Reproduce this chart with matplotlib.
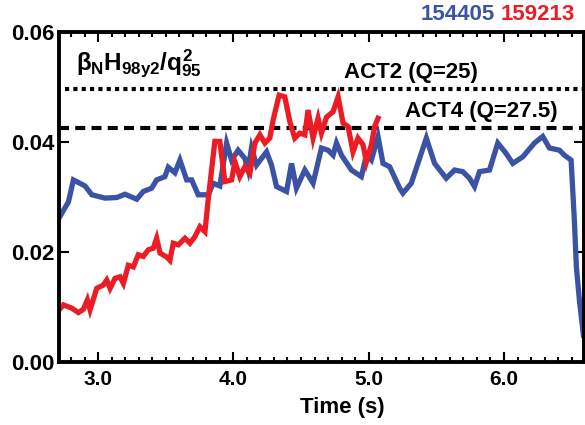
import numpy as np
import matplotlib
matplotlib.use("Agg")
import matplotlib.pyplot as plt
from matplotlib.ticker import MultipleLocator, FormatStrFormatter

plt.rcParams['font.family'] = ['Liberation Sans', 'DejaVu Sans']
plt.rcParams['font.weight'] = 'bold'
plt.rcParams['mathtext.fontset'] = 'custom'
plt.rcParams['mathtext.rm'] = 'Liberation Sans'
plt.rcParams['mathtext.it'] = 'Liberation Sans'

# shot 154405
t_blue = [2.712, 2.781, 2.818, 2.904, 2.954, 3.052, 3.138, 3.199, 3.286, 3.334,
          3.396, 3.433, 3.494, 3.519, 3.568, 3.605, 3.655, 3.692, 3.740, 3.814,
          3.851, 3.900, 3.950, 3.987, 4.035, 4.085, 4.109, 4.134, 4.171, 4.245,
          4.282, 4.319, 4.393, 4.430, 4.466, 4.528, 4.589, 4.651, 4.700, 4.737,
          4.762, 4.799, 4.872, 4.946, 4.983, 5.020, 5.069, 5.106, 5.155, 5.229,
          5.253, 5.315, 5.426, 5.487, 5.573, 5.635, 5.696, 5.745, 5.782, 5.819,
          5.893, 5.954, 6.016, 6.065, 6.139, 6.225, 6.286, 6.336, 6.410, 6.446,
          6.496, 6.520, 6.535, 6.557, 6.587]
v_blue = [0.0262, 0.0291, 0.0331, 0.0320, 0.0304, 0.0298, 0.0299, 0.0305, 0.0296, 0.0310,
          0.0316, 0.0331, 0.0337, 0.0354, 0.0344, 0.0367, 0.0331, 0.0331, 0.0304, 0.0304,
          0.0325, 0.0320, 0.0398, 0.0367, 0.0385, 0.0370, 0.0349, 0.0389, 0.0358, 0.0382,
          0.0358, 0.0319, 0.0310, 0.0361, 0.0316, 0.0349, 0.0325, 0.0389, 0.0385, 0.0376,
          0.0398, 0.0376, 0.0349, 0.0337, 0.0376, 0.0367, 0.0410, 0.0361, 0.0355, 0.0316,
          0.0307, 0.0325, 0.0407, 0.0361, 0.0334, 0.0349, 0.0346, 0.0334, 0.0319, 0.0346,
          0.0349, 0.0398, 0.0379, 0.0361, 0.0373, 0.0398, 0.0410, 0.0389, 0.0385, 0.0376,
          0.0367, 0.0258, 0.0173, 0.0113, 0.0049]

# shot 159213
t_red = [2.712, 2.744, 2.806, 2.855, 2.892, 2.921, 2.941, 2.990, 3.039, 3.064,
         3.089, 3.125, 3.162, 3.187, 3.224, 3.261, 3.297, 3.334, 3.371, 3.408,
         3.433, 3.458, 3.507, 3.531, 3.556, 3.593, 3.642, 3.679, 3.716, 3.753,
         3.790, 3.814, 3.863, 3.900, 3.937, 3.987, 4.011, 4.048, 4.085, 4.122,
         4.159, 4.196, 4.233, 4.269, 4.294, 4.338, 4.380, 4.417, 4.454, 4.491,
         4.528, 4.552, 4.589, 4.626, 4.651, 4.688, 4.737, 4.774, 4.811, 4.848,
         4.884, 4.921, 4.958, 4.983, 5.020, 5.044, 5.069]
v_red = [0.0095, 0.0104, 0.0098, 0.0090, 0.0096, 0.0113, 0.0095, 0.0134, 0.0140, 0.0149,
         0.0134, 0.0152, 0.0155, 0.0143, 0.0176, 0.0173, 0.0195, 0.0192, 0.0204, 0.0207,
         0.0225, 0.0198, 0.0191, 0.0185, 0.0216, 0.0213, 0.0225, 0.0216, 0.0228, 0.0246,
         0.0237, 0.0295, 0.0401, 0.0401, 0.0328, 0.0331, 0.0364, 0.0337, 0.0355, 0.0343,
         0.0398, 0.0413, 0.0398, 0.0407, 0.0440, 0.0485, 0.0482, 0.0437, 0.0407, 0.0416,
         0.0413, 0.0458, 0.0407, 0.0443, 0.0416, 0.0445, 0.0455, 0.0482, 0.0434, 0.0428,
         0.0382, 0.0407, 0.0395, 0.0364, 0.0395, 0.0428, 0.0443]

act2 = 0.0496   # ACT2 (Q=25)
act4 = 0.0426   # ACT4 (Q=27.5)

blue = '#3a53a4'
red = '#ed1c24'

fig = plt.figure(figsize=(5.85, 4.25), dpi=100)
ax = fig.add_axes([0.101, 0.148, 0.897, 0.777])

ax.axhline(act2, xmin=0.012, color='black', lw=3, ls=(0, (1, 1)))
ax.axhline(act4, color='black', lw=3, ls=(0, (2.4, 1.5)))

ax.plot(t_blue, v_blue, color=blue, lw=3.8, solid_joinstyle='miter')
ax.plot(t_red, v_red, color=red, lw=3.8, solid_joinstyle='miter')

ax.set_xlim(2.712, 6.59)
ax.set_ylim(0, 0.06)

ax.xaxis.set_major_locator(MultipleLocator(1.0))
ax.xaxis.set_minor_locator(MultipleLocator(0.1))
ax.yaxis.set_major_locator(MultipleLocator(0.02))
ax.xaxis.set_major_formatter(FormatStrFormatter('%.1f'))
ax.yaxis.set_major_formatter(FormatStrFormatter('%.2f'))

ax.tick_params(which='both', direction='in', top=True, right=True, width=1.5)
ax.tick_params(which='major', length=7, labelsize=15, pad=6)
ax.tick_params(which='minor', length=3.5)
ax.tick_params(axis='y', labelsize=16, pad=3)
for s in ax.spines.values():
    s.set_linewidth(2.8)

ax.set_xlabel('Time (s)', fontsize=16, fontweight='bold')
ax.xaxis.set_label_coords(0.54, -0.136, transform=ax.transAxes)
ax.xaxis.label.set_va('center')

ax.text(0.033, 0.905, r'$\beta_N H_{98y2}/q_{95}^2$', transform=ax.transAxes,
        fontsize=17.5, va='center', ha='left')
ax.text(5.31, act2 + 0.0031, 'ACT2 (Q=25)', fontsize=16, fontweight='bold',
        ha='center', va='center')
ax.text(5.83, act4 + 0.0029, 'ACT4 (Q=27.5)', fontsize=16, fontweight='bold',
        ha='center', va='center')

fig.text(0.846, 0.965, '154405', color=blue, fontsize=16, fontweight='bold',
         ha='right', va='center')
fig.text(0.855, 0.965, '159213', color=red, fontsize=16, fontweight='bold',
         ha='left', va='center')

fig.savefig('out.png', dpi=100)
